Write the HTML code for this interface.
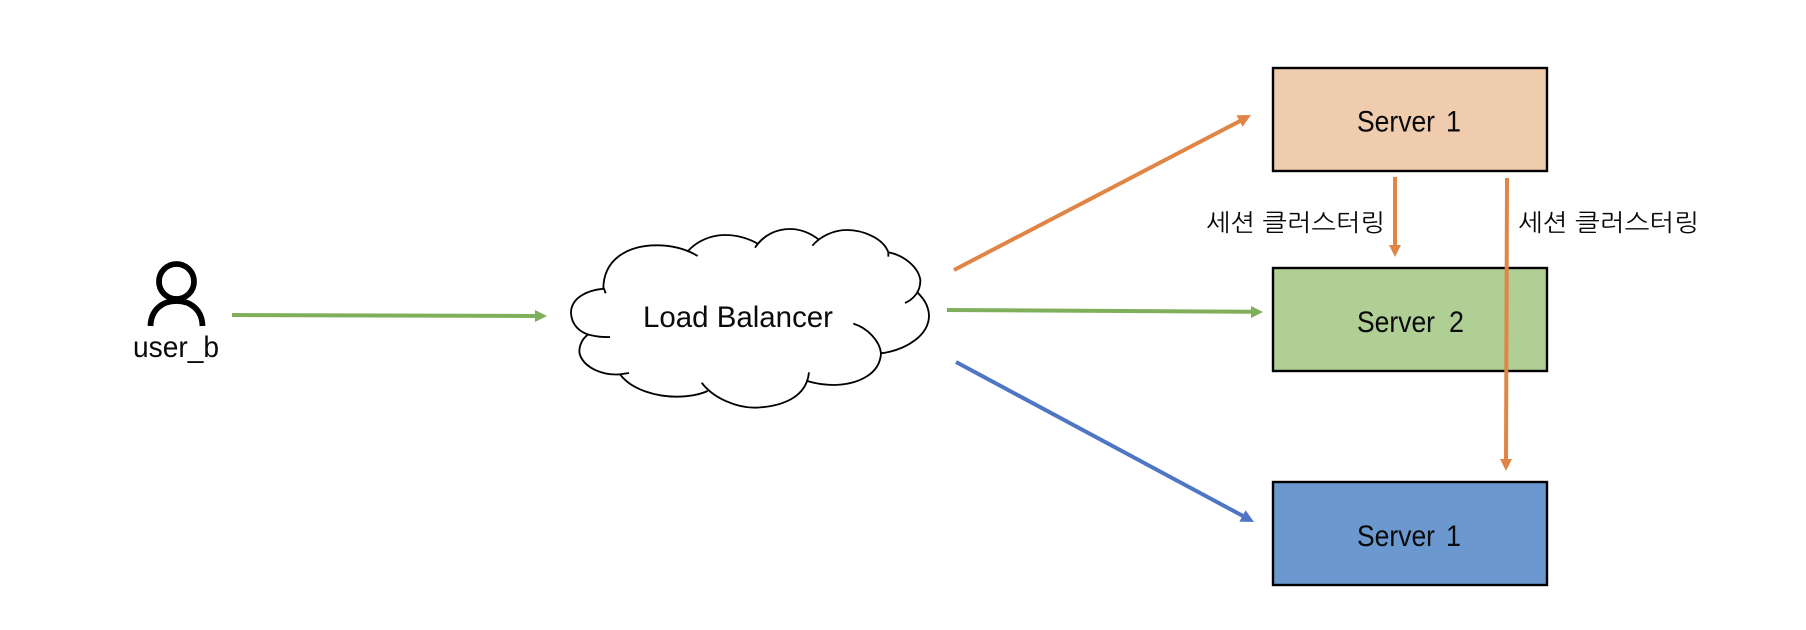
<!DOCTYPE html>
<html lang="ko">
<head>
<meta charset="utf-8">
<title>Load Balancer Session Clustering</title>
<style>
html,body{margin:0;padding:0;background:#fff;width:1806px;height:630px;overflow:hidden}
svg{display:block}
text{font-family:"Liberation Sans","Noto Sans CJK KR",sans-serif;fill:#0a0a0a}
.k{font-family:"NanumGothic","Noto Sans CJK KR",sans-serif;font-size:24px}
.l{font-size:30px}
</style>
</head>
<body>
<svg width="1806" height="630" viewBox="0 0 1806 630" xmlns="http://www.w3.org/2000/svg">
<rect width="1806" height="630" fill="#fff"/>

<!-- boxes -->
<rect x="1273" y="68" width="274" height="103" fill="#F0CCAE" stroke="#000" stroke-width="2.4"/>
<rect x="1273" y="268" width="274" height="103" fill="#B0CF95" stroke="#000" stroke-width="2.4"/>
<rect x="1273" y="482" width="274" height="103" fill="#6A98CF" stroke="#000" stroke-width="2.4"/>
<text class="l" x="1357" y="131.500" textLength="78" lengthAdjust="spacingAndGlyphs">Server</text>
<text class="l" x="1446" y="131.500" textLength="15" lengthAdjust="spacingAndGlyphs">1</text>
<text class="l" x="1357" y="332" textLength="78" lengthAdjust="spacingAndGlyphs">Server</text>
<text class="l" x="1449" y="332" textLength="15" lengthAdjust="spacingAndGlyphs">2</text>
<text class="l" x="1357" y="546" textLength="78" lengthAdjust="spacingAndGlyphs">Server</text>
<text class="l" x="1446" y="546" textLength="15" lengthAdjust="spacingAndGlyphs">1</text>

<!-- person -->
<circle cx="176.500" cy="281.500" r="17.500" fill="none" stroke="#000" stroke-width="5.800"/>
<path d="M150.500 326 C151 310 162 301 176.500 301 C191 301 202 310 202.500 326" fill="none" stroke="#000" stroke-width="5.800"/>
<text class="l" x="133" y="357" textLength="86" lengthAdjust="spacingAndGlyphs">user_b</text>

<!-- cloud -->
<g transform="translate(560 210) scale(.33333)" fill="none" stroke="#000" stroke-width="5.500" stroke-linecap="butt">
<path d="M137 250 L132 236 C80 240 32 265 33 310 C35 345 60 368 90 375 C110 380 130 382 150 381"/>
<path d="M85 373 C60 390 55 420 60 435 C75 475 130 497 180 493 L207 489"/>
<path d="M180 493 C215 540 290 560 350 560 C385 560 420 553 443 543"/>
<path d="M425 518 C460 565 530 593 585 593 C670 590 740 560 747 487"/>
<path d="M742 513 C770 522 800 525 825 525 C900 522 960 490 963 430 C960 395 925 355 880 341"/>
<path d="M963 430 C1040 420 1108 375 1107 315 C1105 285 1090 265 1073 248"/>
<path d="M1035 279 C1060 268 1082 245 1081 210 C1075 170 1030 135 985 127"/>
<path d="M985 140 L985 127 C970 85 910 60 860 60 C820 60 780 80 757 107"/>
<path d="M778 90 C750 68 720 57 690 57 C650 57 610 75 585 113"/>
<path d="M595 102 C565 85 530 75 495 75 C450 75 410 95 385 122"/>
<path d="M413 138 C375 115 330 106 290 106 C200 106 130 150 130 237"/>
</g>
<text class="l" x="643" y="327" textLength="190" lengthAdjust="spacingAndGlyphs">Load Balancer</text>

<!-- connectors -->
<g stroke-width="4" fill="none">
<path d="M232 315 L536 316" stroke="#7FAF5A"/>
<path d="M954 270 L1240 121" stroke="#E08545"/>
<path d="M947 310 L1252 311.700" stroke="#7FAF5A"/>
<path d="M956 362 L1243 516" stroke="#4F76C4"/>
<path d="M1395 177 L1395 246" stroke="#E08545"/>
<path d="M1507 178 L1506 460" stroke="#E08545"/>
</g>
<polygon points="547,316 535,310 535,322" fill="#7FAF5A"/>
<polygon points="1251,115 1236.500,115.200 1242.500,126.800" fill="#E08545"/>
<polygon points="1263,312 1251,306 1251,318" fill="#7FAF5A"/>
<polygon points="1254,522 1245.600,510.200 1239.400,521.600" fill="#4F76C4"/>
<polygon points="1395,257 1389,245 1401,245" fill="#E08545"/>
<polygon points="1506,471 1500,459 1512,459" fill="#E08545"/>

<!-- labels -->
<text class="k" x="1206" y="231" textLength="179" lengthAdjust="spacingAndGlyphs">세션 클러스터링</text>
<text class="k" x="1518" y="231" textLength="181" lengthAdjust="spacingAndGlyphs">세션 클러스터링</text>
</svg>
</body>
</html>
